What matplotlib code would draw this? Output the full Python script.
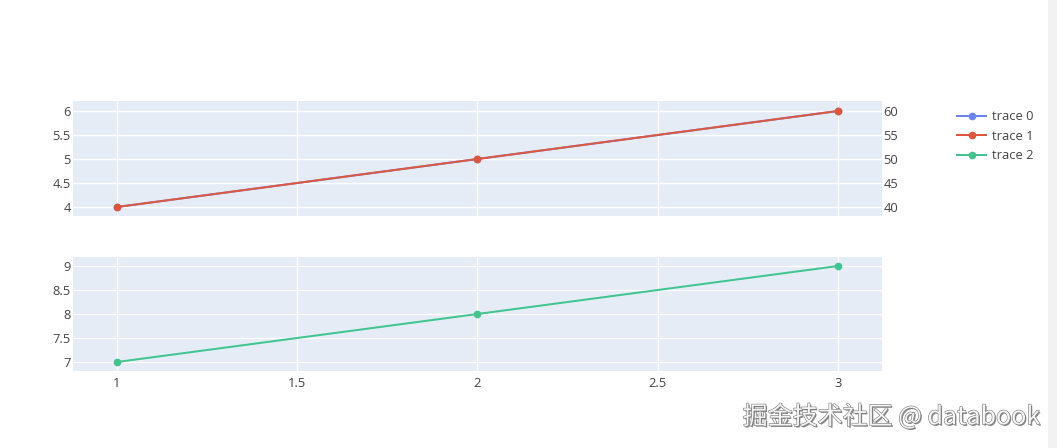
import matplotlib
matplotlib.use("Agg")
import matplotlib.pyplot as plt
import matplotlib.patheffects as pe
from matplotlib.lines import Line2D
from matplotlib.patches import Rectangle

x = [1, 2, 3]
trace0_y = [4, 5, 6]
trace1_y = [40, 50, 60]
trace2_y = [7, 8, 9]
labels = ["trace 0", "trace 1", "trace 2"]
colors = ["#6a85ee", "#dc573e", "#41c48f"]
xticks = [1, 1.5, 2, 2.5, 3]
xticklabels = ["1", "1.5", "2", "2.5", "3"]
top_yticks = [4, 4.5, 5, 5.5, 6]
top_yticklabels = ["4", "4.5", "5", "5.5", "6"]
right_yticks = [40, 45, 50, 55, 60]
bot_yticks = [7, 7.5, 8, 8.5, 9]
bot_yticklabels = ["7", "7.5", "8", "8.5", "9"]

plt.rcParams['font.family'] = ['Open Sans', 'DejaVu Sans']
FS = 9.3
TC = "#444444"
BG = "#E5ECF6"

fig = plt.figure(figsize=(10.57, 4.48), dpi=100)
fig.patch.set_facecolor("white")
fig.patches.append(Rectangle((1048/1057, 0), 9/1057, 1, transform=fig.transFigure,
                             facecolor="#f2f2f2", edgecolor="none", zorder=0))

L = 73/1057
W = (882-73)/1057
ax1 = fig.add_axes([L, 1-216/448, W, 115/448])
ax2 = fig.add_axes([L, 1-371/448, W, 114/448])

xlim = (1 - 44/360.5, 3 + 44/360.5)

def style(ax):
    ax.set_facecolor(BG)
    for s in ax.spines.values():
        s.set_visible(False)
    ax.grid(True, color="white", linewidth=1.0)
    ax.set_axisbelow(True)
    ax.tick_params(length=0, labelsize=FS, labelcolor=TC)
    ax.set_xlim(*xlim)
    ax.set_xticks(xticks)

style(ax1)
style(ax2)

lw = 1.44
ms = 4.5
ax1.plot(x, trace0_y, color=colors[0], linewidth=lw, marker="o", markersize=ms, zorder=3)
ax1.set_ylim(4 - 9/48, 6 + 10/48)
ax1.set_yticks(top_yticks)
ax1.set_yticklabels(top_yticklabels)
ax1.tick_params(axis="y", pad=1.5)
ax1.set_xticklabels([])

ax1r = ax1.twinx()
for s in ax1r.spines.values():
    s.set_visible(False)
ax1r.plot(x, trace1_y, color=colors[1], linewidth=lw, marker="o", markersize=ms, zorder=3)
ax1r.set_ylim(40 - 90/48, 60 + 100/48)
ax1r.set_yticks(right_yticks)
ax1r.set_yticklabels([str(v) for v in right_yticks])
ax1r.tick_params(length=0, labelsize=FS, labelcolor=TC, pad=1)
ax1r.grid(False)

ax2.plot(x, trace2_y, color=colors[2], linewidth=lw, marker="o", markersize=ms, zorder=3)
ax2.set_ylim(7 - 9/48, 9 + 9/48)
ax2.set_yticks(bot_yticks)
ax2.set_yticklabels(bot_yticklabels)
ax2.set_xticklabels(xticklabels)
ax2.tick_params(axis="y", pad=1.5)
ax2.tick_params(axis="x", pad=4)

handles = [Line2D([0], [0], color=c, linewidth=lw, marker="o", markersize=ms) for c in colors]
fig.legend(handles, labels, loc="upper left", bbox_to_anchor=(957/1057, 1-110.5/448),
           frameon=False, fontsize=FS, labelcolor=TC, handlelength=2.25,
           handletextpad=0.45, labelspacing=0.5, borderaxespad=0, borderpad=0)

fig.text(1040/1057, 1-417/448, "掘金技术社区 @ databook", ha="right", va="center",
         fontsize=18, color="#f4f4f4", family=["Noto Sans CJK SC", "DejaVu Sans"],
         path_effects=[pe.withSimplePatchShadow(offset=(1, -1), shadow_rgbFace="#555555", alpha=0.7),
                       pe.withStroke(linewidth=0.8, foreground="#777777")])

fig.savefig("out.png", dpi=100)
